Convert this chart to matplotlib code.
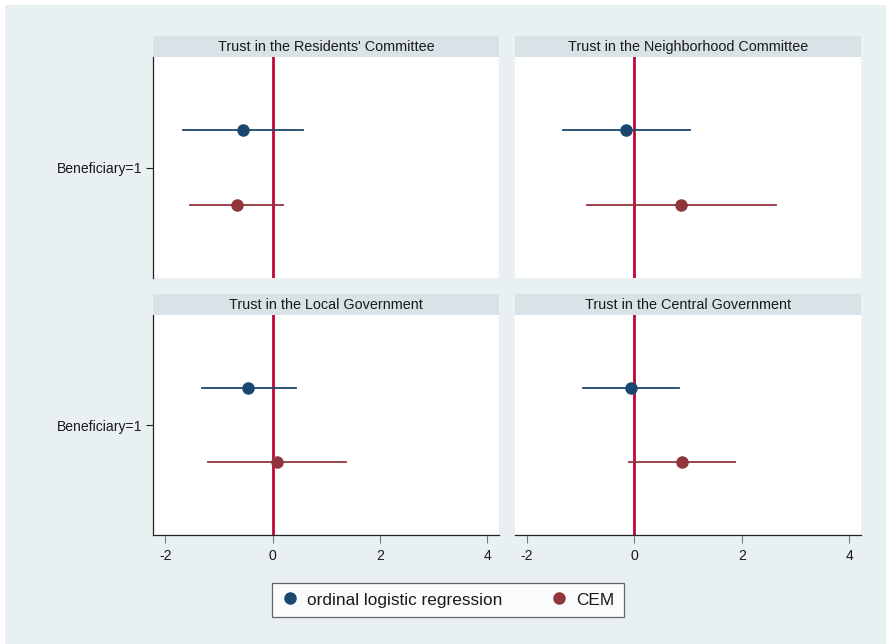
import matplotlib
matplotlib.use("Agg")
import matplotlib.pyplot as plt
from matplotlib.patches import Rectangle
from matplotlib.lines import Line2D

plt.rcParams['font.family'] = ['Liberation Sans', 'DejaVu Sans']

# ---- data ----
panel_titles = ["Trust in the Residents' Committee", "Trust in the Neighborhood Committee",
                "Trust in the Local Government", "Trust in the Central Government"]
category = "Beneficiary=1"
series_names = ["ordinal logistic regression", "CEM"]
ologit_coef = [-0.55, -0.15, -0.45, -0.06]
ologit_lo = [-1.67, -1.32, -1.32, -0.96]
ologit_hi = [0.57, 1.03, 0.43, 0.83]
cem_coef = [-0.67, 0.87, 0.09, 0.89]
cem_lo = [-1.54, -0.88, -1.20, -0.10]
cem_hi = [0.20, 2.64, 1.37, 1.88]
xticks = [-2, 0, 2, 4]

W, H = 887, 644
BG = '#E8F0F2'
STRIP = '#D8E2E7'
BLUE = '#1A476F'
RED = '#90353B'
ZERO = '#C10534'

fig = plt.figure(figsize=(W / 100, H / 100), dpi=100, facecolor=BG)
fig.patches.append(Rectangle((0, 1 - 5 / H), 1, 5 / H, transform=fig.transFigure,
                             facecolor='white', edgecolor='none', zorder=-10))
fig.patches.append(Rectangle((0, 0), 5 / W, 1, transform=fig.transFigure,
                             facecolor='white', edgecolor='none', zorder=-10))

def px_axes(left, right, top, bottom, **kw):
    return fig.add_axes([left / W, 1 - bottom / H, (right - left) / W, (bottom - top) / H], **kw)

boxes = [(153.5, 499, 57, 278), (515, 861, 57, 278),
         (153.5, 499, 315, 535), (515, 861, 315, 535)]
strip_h = 21
series = [(ologit_coef, ologit_lo, ologit_hi, BLUE, 1.168),
          (cem_coef, cem_lo, cem_hi, RED, 0.832)]

for i, (l, r, t, b) in enumerate(boxes):
    # strip
    sax = px_axes(l, r, t - strip_h, t)
    sax.set_facecolor(STRIP)
    sax.set_xticks([]); sax.set_yticks([])
    for s in sax.spines.values():
        s.set_visible(False)
    sax.text(0.5, 0.27, panel_titles[i], ha='center', va='baseline', fontsize=10.4,
             color='#1a1a1a', transform=sax.transAxes)

    ax = px_axes(l, r, t, b)
    ax.set_facecolor('white')
    ax.set_xlim(-2.22, 4.22)
    ax.set_ylim(0.5, 1.5)
    ax.axvline(0, color=ZERO, lw=2.0, zorder=2)
    for coef, lo, hi, col, yy in series:
        ax.plot([lo[i], hi[i]], [yy, yy], color=col, lw=1.3, zorder=3)
        ax.plot([coef[i]], [yy], 'o', color=col, ms=8, zorder=4)
    for s in ['top', 'right']:
        ax.spines[s].set_visible(False)
    left_col = (i % 2 == 0)
    bottom_row = (i >= 2)
    ax.spines['left'].set_visible(left_col)
    ax.spines['bottom'].set_visible(bottom_row)
    for s in ['left', 'bottom']:
        ax.spines[s].set_color('#222222')
        ax.spines[s].set_linewidth(0.9)
    if left_col:
        ax.set_yticks([1.0])
        ax.set_yticklabels([category], fontsize=10.1, color='#1a1a1a')
        ax.tick_params(axis='y', length=5, width=0.8, color='#222222', pad=3)
    else:
        ax.set_yticks([])
    if bottom_row:
        ax.set_xticks(xticks)
        ax.set_xticklabels([str(v) for v in xticks], fontsize=10.1, color='#1a1a1a')
        ax.tick_params(axis='x', length=6, width=0.8, color='#777777', pad=4)
    else:
        ax.set_xticks([])

# legend
handles = [Line2D([], [], marker='o', ls='none', color=BLUE, ms=8),
           Line2D([], [], marker='o', ls='none', color=RED, ms=8)]
leg = fig.legend(handles, series_names, loc='center', bbox_to_anchor=(448 / W, 1 - 600 / H),
                 ncol=2, frameon=True, fancybox=False, fontsize=12.4, handletextpad=0.5,
                 columnspacing=2.8, borderpad=0.55, handlelength=1.0, borderaxespad=0)
leg.get_frame().set_edgecolor('#444444')
leg.get_frame().set_linewidth(0.9)
leg.get_frame().set_facecolor('white')
for txt in leg.get_texts():
    txt.set_color('#1a1a1a')

fig.savefig('out.png', dpi=100, facecolor=BG)
